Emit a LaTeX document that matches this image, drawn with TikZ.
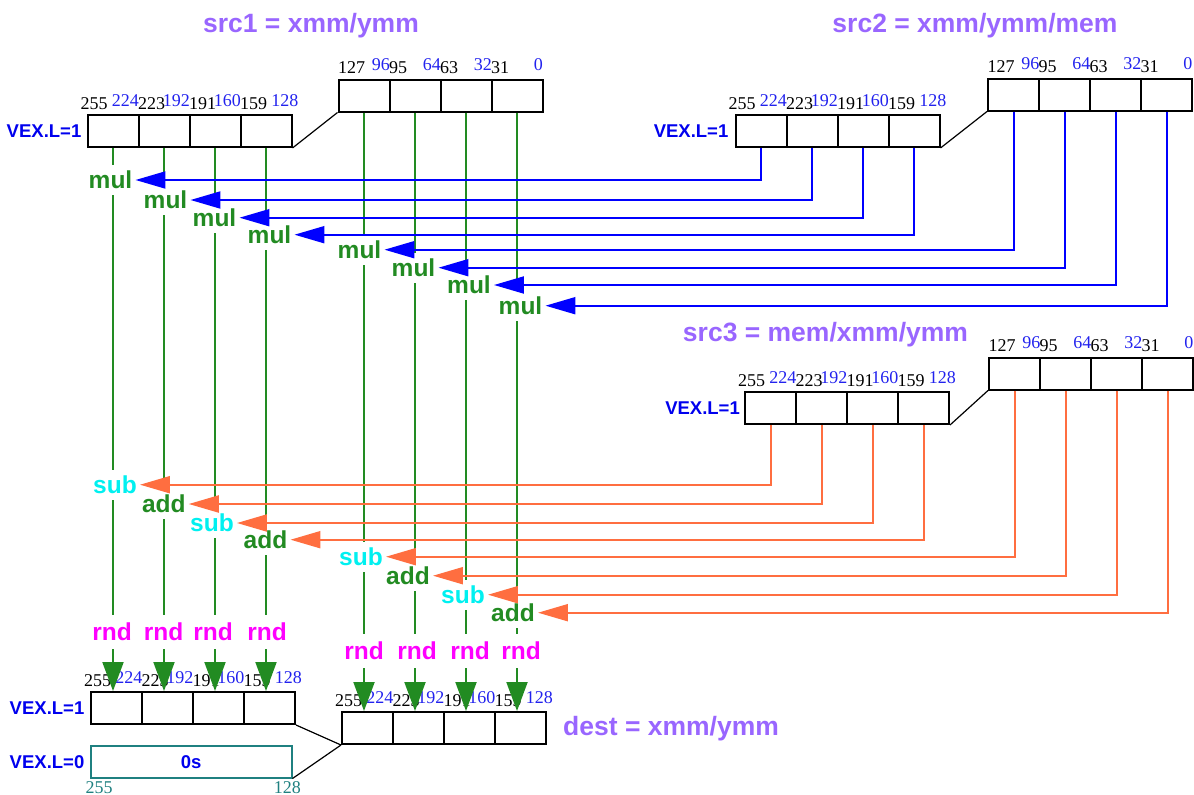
\documentclass[tikz,border=0pt]{standalone}
\usepackage{fontspec}
\setmainfont{Liberation Serif}
\setsansfont{Liberation Sans}
\usetikzlibrary{arrows.meta, positioning}
\definecolor{titlecolor}{HTML}{9966FF}
\definecolor{opgreen}{HTML}{228B22}
\definecolor{src2blue}{HTML}{0000FF}
\definecolor{src3orange}{HTML}{FF6E40}
\definecolor{bitblue}{HTML}{2222EE}
\definecolor{vexblue}{HTML}{0000EE}
\definecolor{zeroteal}{HTML}{1F8080}
\definecolor{subcyan}{HTML}{00F0F0}
\definecolor{rndmagenta}{HTML}{FF00FF}

\newcommand{\bitfont}{\fontsize{18}{18}\selectfont}
\newcommand{\opfont}{\sffamily\bfseries\fontsize{24.5}{25}\selectfont}
\newcommand{\vexfont}{\sffamily\bfseries\fontsize{18.5}{19}\selectfont}
\newcommand{\titlefont}{\sffamily\bfseries\fontsize{26.5}{27}\selectfont}

% register of four 32-bit cells: name, left x, top y, highest bit
\newcommand{\regbox}[4]{%
  \foreach \i in {1,...,4} {
    \pgfmathtruncatemacro{\hibitno}{#4-32*(\i-1)}
    \pgfmathtruncatemacro{\lobitno}{\hibitno-31}
    \pgfmathsetmacro{\hishift}{ifthenelse(and(\i==1,#4>200),-6,0.5)}
    \pgfmathsetmacro{\loshift}{ifthenelse(and(\i==4,#4>200),6,-0.5)}
    \node[cell] (#1-\i) at ({#2+51*\i-25.5}, {#3+16}) {};
    \node[hibit] at ([xshift=\hishift pt, yshift=5pt]#1-\i.north west) {\hibitno};
    \node[lobit] at ([xshift=\loshift pt, yshift=8pt]#1-\i.north east) {\lobitno};
  }%
}

\begin{document}
\begin{tikzpicture}[x=1pt, y=-1pt,
    cell/.style={draw, line width=2pt, minimum width=51pt, minimum height=32pt, inner sep=0pt},
    hibit/.style={font=\bitfont, anchor=base west, inner sep=0pt},
    lobit/.style={font=\bitfont, anchor=base east, inner sep=0pt, text=bitblue},
    zerobit/.style={font=\bitfont, inner sep=0pt, text=zeroteal},
    vex/.style={font=\vexfont, text=vexblue, inner sep=0pt},
    regtitle/.style={font=\titlefont, text=titlecolor, inner sep=0pt},
    op/.style={font=\opfont, fill=white, inner xsep=3pt, inner ysep=6pt},
    link/.style={line width=1.2pt},
    barrow/.style={-{Triangle[length=30pt, width=17pt]}, line width=2pt, color=src2blue},
    oarrow/.style={-{Triangle[length=30pt, width=17pt]}, line width=2pt, color=src3orange},
    garrow/.style={-{Triangle[length=29pt, width=21pt]}, line width=2pt, color=opgreen},
]
  \useasboundingbox (0,0) rectangle (1194,795);

  % === Registers ===
  \regbox{s1h}{87.5}{115}{255}
  \regbox{s1l}{338.5}{79.5}{127}
  \regbox{s2h}{735.5}{115}{255}
  \regbox{s2l}{988}{78.5}{127}
  \regbox{s3h}{745}{392}{255}
  \regbox{s3l}{989}{357.5}{127}
  \regbox{d1}{91}{692}{255}
  \regbox{d2}{342}{712}{255}
  \node[draw=zeroteal, line width=2pt, minimum width=200.5pt, minimum height=31.5pt,
    font=\vexfont, text=vexblue] (zero) at (191.25, 761.75) {0s};
  \node[zerobit, anchor=north west] at ([xshift=-4.5pt, yshift=-2.5pt]zero.south west) {255};
  \node[zerobit, anchor=north east] at ([xshift=8.5pt, yshift=-2.5pt]zero.south east) {128};

  \draw[link] (s1h-4.south east) -- (s1l-1.south west);
  \draw[link] (s2h-4.south east) -- (s2l-1.south west);
  \draw[link] (s3h-4.south east) -- (s3l-1.south west);
  \draw[link] (d1-4.south east) -- (d2-1.south west);
  \draw[link] (zero.south east) -- (d2-1.south west);

  % === Titles and VEX.L ===
  \node[regtitle, anchor=base] (src1title) at (311, 32) {src1 = xmm/ymm};
  \node[regtitle, anchor=base] (src2title) at (975, 32) {src2 = xmm/ymm/mem};
  \node[regtitle, anchor=base] (src3title) at (825.5, 341) {src3 = mem/xmm/ymm};
  \node[regtitle, anchor=base west] (desttitle) at (563, 735) {dest = xmm/ymm};
  \node[vex, left=5pt of s1h-1] (vex1) {VEX.L=1};
  \node[vex, left=6pt of s2h-1] (vex2) {VEX.L=1};
  \node[vex, left=4pt of s3h-1] (vex3) {VEX.L=1};
  \node[vex, left=5.5pt of d1-1] (vexd1) {VEX.L=1};
  \node[vex, left=5.5pt of zero] (vexd0) {VEX.L=0};

  % === src1 lanes down to dest ===
  \foreach \i in {1,...,4} {
    \draw[garrow] (s1h-\i.south) -- (s1h-\i.south |- d1-\i.north);
    \draw[garrow] (s1l-\i.south) -- (s1l-\i.south |- d2-\i.north);
  }

  % === Operations ===
  \foreach \n/\x/\y in {1/110.5/180, 2/165.5/200, 3/214.5/217.7, 4/269.5/234.7,
      5/359.5/249.7, 6/413.5/267.7, 7/469/285, 8/520.5/305.7}
    \node[op, text=opgreen] (mul\n) at (\x,\y) {mul};
  \foreach \n/\kind/\c/\x/\y in {1/sub/subcyan/115/484.7, 2/add/opgreen/163.8/504,
      3/sub/subcyan/212/523, 4/add/opgreen/265.5/539.7, 5/sub/subcyan/361/556.7,
      6/add/opgreen/408/575.7, 7/sub/subcyan/463/594.7, 8/add/opgreen/513/612.7}
    \node[op, text=\c] (op\n) at (\x,\y) {\kind};
  \foreach \n/\x/\y in {1/112/631.7, 2/163.6/631.7, 3/213/631.7, 4/267/631.7,
      5/364/650.7, 6/417/650.7, 7/470/650.7, 8/521/650.7}
    \node[op, inner ysep=8pt, text=rndmagenta] (rnd\n) at (\x,\y) {rnd};

  % === src2 and src3 feeds ===
  \foreach \n/\src in {1/s2h-1, 2/s2h-2, 3/s2h-3, 4/s2h-4, 5/s2l-1, 6/s2l-2, 7/s2l-3, 8/s2l-4}
    \draw[barrow] (\src.south) |- (mul\n.east);
  \foreach \n/\src in {1/s3h-1, 2/s3h-2, 3/s3h-3, 4/s3h-4, 5/s3l-1, 6/s3l-2, 7/s3l-3, 8/s3l-4}
    \draw[oarrow] (\src.south) |- (op\n.east);
\end{tikzpicture}
\end{document}
